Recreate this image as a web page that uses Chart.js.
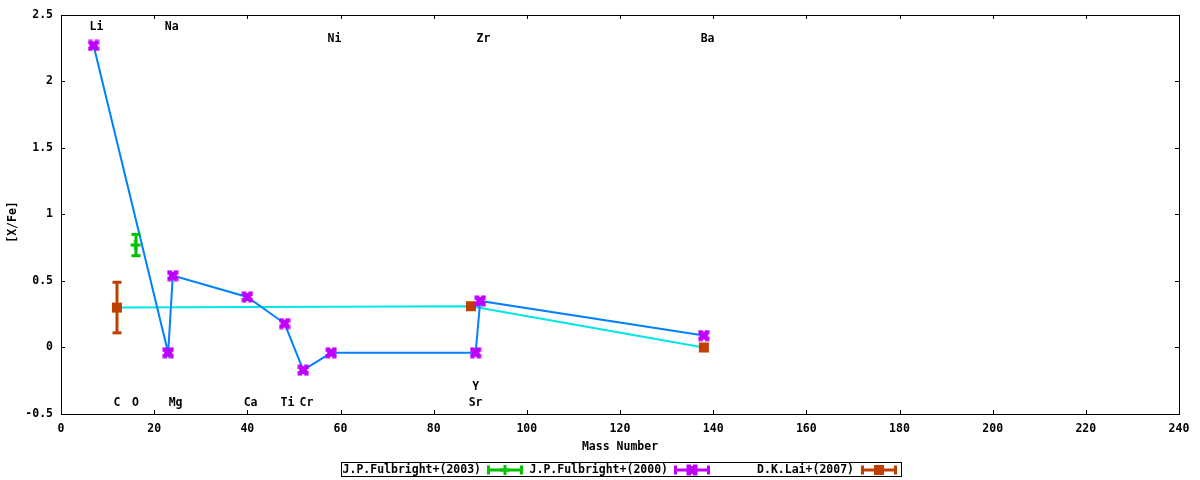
<!DOCTYPE html>
<html><head><meta charset="utf-8">
<script src="https://cdn.jsdelivr.net/npm/chart.js@4/dist/chart.umd.min.js"></script>
<style>html,body{margin:0;padding:0;background:#fff}#wrap{width:1200px;height:480px}</style>
</head><body><div id="wrap"><canvas id="c" width="1200" height="480"></canvas></div>
<script>
// ---- data ----
const f03Mass = [16];
const f03Val  = [0.77];
const f03Err  = [0.08];
const f00Mass = [7, 23, 24, 40, 48, 52, 58, 89, 90, 138];
const f00Val  = [2.27, -0.04, 0.54, 0.38, 0.18, -0.17, -0.04, -0.04, 0.35, 0.09];
const laiMass = [12, 88, 138];
const laiVal  = [0.30, 0.31, 0.00];
const laiErr  = [0.19, 0, 0];
const seriesNames = ['J.P.Fulbright+(2003)', 'J.P.Fulbright+(2000)', 'D.K.Lai+(2007)'];
const elemNames = ['Li', 'Na', 'Ni', 'Zr', 'Ba', 'C', 'O', 'Mg', 'Ca', 'Ti', 'Cr', 'Y', 'Sr'];
const elemMass  = [7.6, 23.75, 58.7, 90.7, 138.8, 12.0, 16.0, 24.6, 40.7, 48.6, 52.7, 89.0, 89.0];
const elemY     = [2.41, 2.41, 2.32, 2.32, 2.32, -0.42, -0.42, -0.42, -0.42, -0.42, -0.42, -0.295, -0.42];
const xAxisTitle = 'Mass Number';
const yAxisTitle = '[X/Fe]';

// ---- styles ----
const GREEN = 'rgb(0,192,0)', MAGENTA = 'rgb(192,0,255)', BLUE = 'rgb(0,128,255)',
      CYAN = 'rgb(0,230,230)', BROWN = 'rgb(192,64,0)';
const FONT_FAMILY = '"DejaVu Sans Mono", "Liberation Mono", monospace';
const FONT = 'bold 11.5px ' + FONT_FAMILY;

function makeMarker(kind) {
  const c = document.createElement('canvas');
  c.width = 12; c.height = 12;
  const g = c.getContext('2d');
  if (kind === 'x') {
    g.fillStyle = MAGENTA;
    g.fillRect(0.5, 0.5, 11, 11);
    g.clearRect(5, 0, 2, 2); g.clearRect(5, 10, 2, 2);
    g.clearRect(0, 5, 2, 2); g.clearRect(10, 5, 2, 2);
  } else if (kind === 'sq') {
    g.fillStyle = BROWN;
    g.fillRect(1, 1, 10, 10);
  } else {
    g.fillStyle = GREEN;
    g.fillRect(1, 4.5, 10, 3);
    g.fillRect(4.5, 1, 3, 10);
  }
  return c;
}
const mkX = makeMarker('x'), mkSq = makeMarker('sq'), mkPlus = makeMarker('plus');

function toXY(xs, ys) { return xs.map((x, i) => ({x: x, y: ys[i]})); }

const errs = [f03Err, null, laiErr];
const errColors = [GREEN, MAGENTA, BROWN];
const markers = [mkPlus, mkX, mkSq];

const decor = {
  id: 'decor',
  afterDatasetsDraw(chart) {
    const ctx = chart.ctx, a = chart.chartArea;
    const xs = chart.scales.x, ys = chart.scales.y;
    ctx.save();
    // error bars
    chart.data.datasets.forEach((ds, di) => {
      const e = errs[di];
      if (!e) return;
      ds.data.forEach((p, i) => {
        if (!e[i]) return;
        const px = Math.round(xs.getPixelForValue(p.x));
        const y1 = ys.getPixelForValue(p.y + e[i]);
        const y2 = ys.getPixelForValue(p.y - e[i]);
        ctx.fillStyle = errColors[di];
        ctx.fillRect(px - 1.5, y1, 3, y2 - y1);
        ctx.fillRect(px - 4.5, y1 - 1.5, 9, 3);
        ctx.fillRect(px - 4.5, y2 - 1.5, 9, 3);
      });
    });
    // border
    ctx.strokeStyle = '#000'; ctx.lineWidth = 1;
    ctx.strokeRect(Math.round(a.left) + 0.5, Math.round(a.top) + 0.5,
                   Math.round(a.right - a.left), Math.round(a.bottom - a.top));
    // inward ticks
    ctx.beginPath();
    xs.ticks.forEach(t => {
      const px = Math.round(xs.getPixelForValue(t.value)) + 0.5;
      ctx.moveTo(px, a.bottom); ctx.lineTo(px, a.bottom - 4);
      ctx.moveTo(px, a.top); ctx.lineTo(px, a.top + 4);
    });
    ys.ticks.forEach(t => {
      const py = Math.round(ys.getPixelForValue(t.value)) + 0.5;
      ctx.moveTo(a.left, py); ctx.lineTo(a.left + 4, py);
      ctx.moveTo(a.right, py); ctx.lineTo(a.right - 4, py);
    });
    ctx.stroke();
    // element labels
    ctx.fillStyle = '#000'; ctx.font = FONT;
    ctx.textAlign = 'center'; ctx.textBaseline = 'middle';
    elemNames.forEach((n, i) => {
      ctx.fillText(n, xs.getPixelForValue(elemMass[i]), ys.getPixelForValue(elemY[i]));
    });
    // axis titles
    ctx.fillText(xAxisTitle, (a.left + a.right) / 2, 447);
    ctx.save();
    ctx.translate(13, 222); ctx.rotate(-Math.PI / 2);
    ctx.fillText(yAxisTitle, 0, 0);
    ctx.restore();
    // legend
    ctx.strokeRect(341.5, 462.5, 560, 14);
    const textRight = [481, 668, 854];
    const sampleL = [487, 674, 861];
    const sampleW = 36, ly = 470;
    seriesNames.forEach((n, i) => {
      ctx.fillStyle = '#000'; ctx.textAlign = 'right';
      ctx.fillText(n, textRight[i], ly);
      const col = errColors[i];
      ctx.fillStyle = col;
      ctx.fillRect(sampleL[i], ly - 1.5, sampleW, 3);
      ctx.fillRect(sampleL[i], ly - 4.5, 3, 9);
      ctx.fillRect(sampleL[i] + sampleW - 3, ly - 4.5, 3, 9);
      ctx.drawImage(markers[i], sampleL[i] + sampleW / 2 - 6, ly - 6);
    });
    ctx.restore();
  }
};

new Chart(document.getElementById('c'), {
  type: 'scatter',
  data: {
    datasets: [
      { label: seriesNames[0], data: toXY(f03Mass, f03Val), showLine: false,
        pointStyle: mkPlus, pointRadius: 6, borderColor: GREEN, backgroundColor: GREEN },
      { label: seriesNames[1], data: toXY(f00Mass, f00Val), showLine: true,
        borderColor: BLUE, borderWidth: 2, backgroundColor: MAGENTA,
        pointStyle: mkX, pointRadius: 6, tension: 0 },
      { label: seriesNames[2], data: toXY(laiMass, laiVal), showLine: true,
        borderColor: CYAN, borderWidth: 2, backgroundColor: BROWN,
        pointStyle: mkSq, pointRadius: 6, tension: 0 }
    ]
  },
  options: {
    responsive: false, animation: false, devicePixelRatio: 1,
    layout: { padding: { top: 13, right: 21, left: 0, bottom: 0 } },
    plugins: { legend: { display: false }, tooltip: { enabled: false } },
    scales: {
      x: { type: 'linear', min: 0, max: 240,
           ticks: { stepSize: 20, padding: 8, color: '#000', maxRotation: 0,
                    font: { family: FONT_FAMILY, size: 11.5, weight: 'bold' } },
           grid: { display: false, drawTicks: false }, border: { display: false },
           afterFit: s => { s.height = 66; } },
      y: { type: 'linear', min: -0.5, max: 2.5,
           ticks: { stepSize: 0.5, padding: 8, color: '#000',
                    callback: v => String(Math.round(v * 10) / 10),
                    font: { family: FONT_FAMILY, size: 11.5, weight: 'bold' } },
           grid: { display: false, drawTicks: false }, border: { display: false },
           afterFit: s => { s.width = 61; } }
    }
  },
  plugins: [decor]
});
</script>
</body></html>
